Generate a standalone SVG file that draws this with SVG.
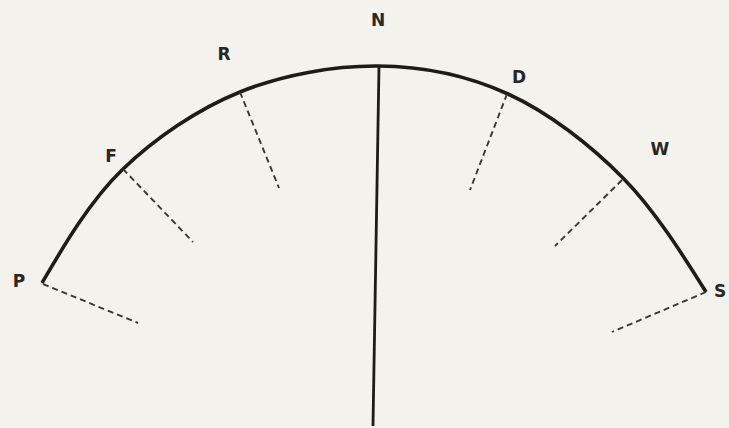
<svg xmlns="http://www.w3.org/2000/svg" width="729" height="428" viewBox="0 0 729 428">
<style>
.arc{fill:none;stroke:#1f1b19;stroke-width:3.6;stroke-linecap:butt;stroke-linejoin:round}
.spine{fill:none;stroke:#1f1b19;stroke-width:2.8}
.dash{fill:none;stroke:#3a3633;stroke-width:1.9;stroke-dasharray:6 4}
.lbl{font-family:"DejaVu Sans","Liberation Sans",sans-serif;font-weight:bold;font-size:17px;fill:#2a2624;text-anchor:middle}
</style>
<rect width="729" height="428" fill="#f4f2ed"/>
<g id="arc">
<path class="arc" d="M42,283 C61.5,249.7 89,201.8 122,170 C155,138.2 197.3,109.3 240,92 C282.7,74.7 333.3,65.7 378,66 C422.7,66.3 467.2,75.3 508,94 C548.8,112.7 590.2,144.8 623,178 C655.8,211.2 685.5,259.3 706,292"/>
</g>
<g id="spine">
<path class="spine" d="M379,66 L373,426"/>
</g>
<g id="connectors">
<path class="dash" d="M43,284 L138,323"/>
<path class="dash" d="M123,169 L193,242"/>
<path class="dash" d="M240,92 L279,188"/>
<path class="dash" d="M507,94 L470,190"/>
<path class="dash" d="M622,180 L555,246"/>
<path class="dash" d="M706,292 L612,332"/>
</g>
<g id="node-P"><text class="lbl" x="19" y="287">P</text></g>
<g id="node-F"><text class="lbl" x="111" y="162">F</text></g>
<g id="node-R"><text class="lbl" x="224" y="60">R</text></g>
<g id="node-N"><text class="lbl" x="378" y="26">N</text></g>
<g id="node-D"><text class="lbl" x="519" y="83">D</text></g>
<g id="node-W"><text class="lbl" x="660" y="155">W</text></g>
<g id="node-S"><text class="lbl" x="720" y="297">S</text></g>
</svg>
